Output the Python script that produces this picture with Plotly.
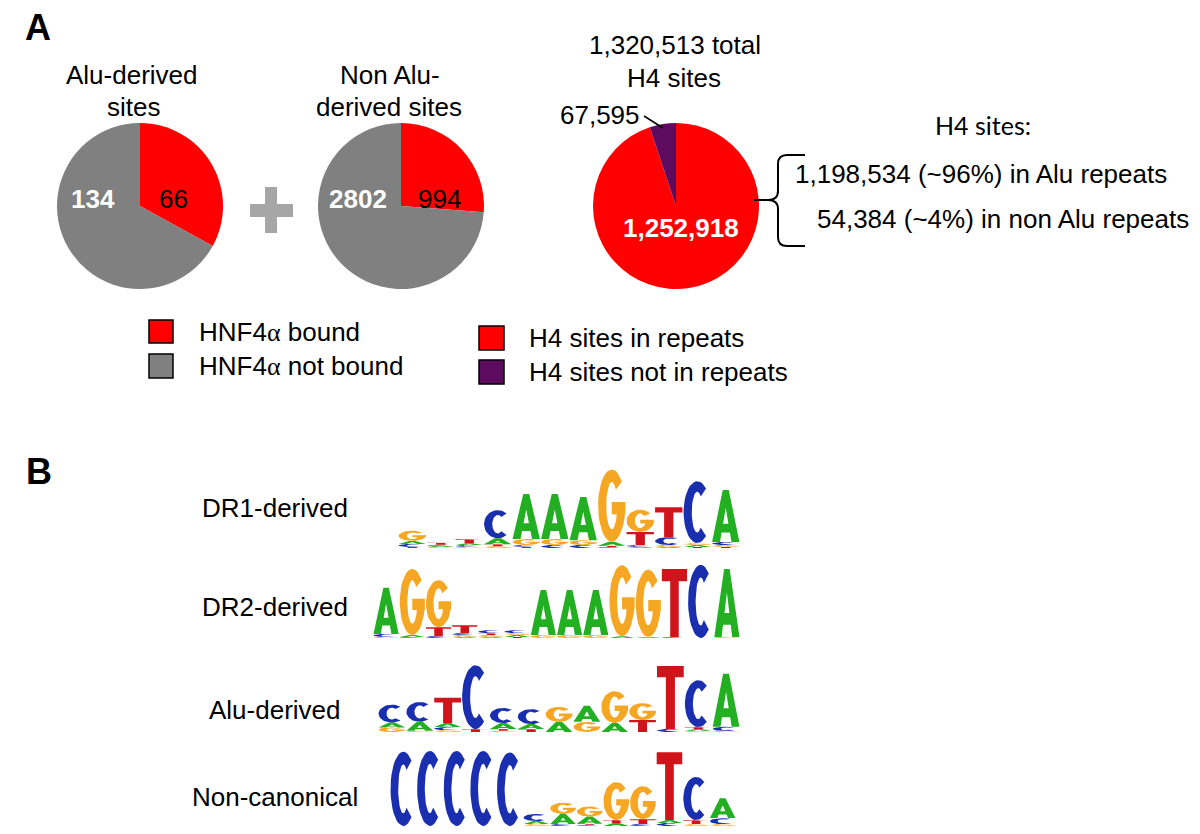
import numpy as np
import plotly.graph_objects as go

W, H = 1200, 834

# ---------------- data ----------------
alu_labels = ["HNF4α bound", "HNF4α not bound"]
alu_values = [66, 134]
non_alu_values = [994, 2802]
h4_labels = ["H4 sites in repeats", "H4 sites not in repeats"]
h4_values = [1252918, 67595]
h4_alu_repeat = 1198534
h4_non_alu_repeat = 54384

logo_names = ["DR1-derived", "DR2-derived", "Alu-derived", "Non-canonical"]

# letter heights (bits) per position
dr1_logo = [
    {"G": 0.27, "C": 0.08, "A": 0.08, "T": 0.03},
    {"T": 0.05, "G": 0.03, "A": 0.03, "C": 0.03},
    {"T": 0.11, "C": 0.05, "A": 0.05, "G": 0.03},
    {"C": 0.75, "A": 0.16, "G": 0.05, "T": 0.05},
    {"A": 1.20, "G": 0.16, "C": 0.05, "T": 0.03},
    {"A": 1.20, "G": 0.16, "C": 0.08},
    {"A": 1.15, "G": 0.13, "C": 0.08},
    {"G": 1.92, "A": 0.11, "C": 0.03, "T": 0.03},
    {"G": 0.59, "T": 0.35, "C": 0.05, "A": 0.03},
    {"T": 0.80, "C": 0.21, "G": 0.05, "A": 0.03},
    {"C": 1.65, "A": 0.05, "G": 0.05, "T": 0.03},
    {"A": 1.39, "C": 0.08, "G": 0.05, "T": 0.03},
]
dr2_logo = [
    {"A": 1.23, "C": 0.08, "G": 0.03},
    {"G": 1.76, "A": 0.05, "C": 0.03},
    {"G": 1.25, "T": 0.24, "C": 0.05},
    {"T": 0.21, "G": 0.05, "C": 0.05, "A": 0.03},
    {"C": 0.08, "G": 0.05, "T": 0.05, "A": 0.03},
    {"C": 0.08, "A": 0.05, "G": 0.05, "T": 0.03},
    {"A": 1.20, "G": 0.08},
    {"A": 1.20, "G": 0.08},
    {"A": 1.20, "G": 0.08},
    {"G": 1.89, "A": 0.05},
    {"G": 1.79, "A": 0.03},
    {"T": 1.81, "C": 0.03},
    {"C": 1.95},
    {"A": 1.81, "G": 0.03},
]
alu_logo = [
    {"C": 0.48, "A": 0.13, "G": 0.12},
    {"C": 0.53, "A": 0.24, "G": 0.03},
    {"T": 0.67, "A": 0.11, "C": 0.08, "G": 0.05},
    {"C": 1.70, "T": 0.08},
    {"C": 0.40, "A": 0.16, "T": 0.05, "G": 0.03},
    {"C": 0.40, "A": 0.13, "T": 0.08},
    {"G": 0.40, "A": 0.27},
    {"A": 0.43, "G": 0.27},
    {"G": 0.85, "A": 0.24},
    {"G": 0.45, "T": 0.32},
    {"T": 1.68, "C": 0.08},
    {"C": 1.25, "A": 0.05, "T": 0.05, "G": 0.03},
    {"A": 1.41, "C": 0.11, "G": 0.03},
]
noncanonical_logo = [
    {"C": 1.98},
    {"C": 2.00},
    {"C": 2.00},
    {"C": 2.00},
    {"C": 1.96},
    {"C": 0.19, "A": 0.08, "G": 0.05},
    {"G": 0.30, "A": 0.27, "C": 0.05},
    {"G": 0.27, "A": 0.19, "C": 0.03, "T": 0.03},
    {"G": 1.01, "A": 0.08, "T": 0.08},
    {"G": 0.88, "T": 0.13, "C": 0.05},
    {"T": 1.81, "C": 0.08, "A": 0.08},
    {"C": 1.15, "T": 0.11, "G": 0.05},
    {"A": 0.53, "C": 0.16, "G": 0.05},
]
logos = [dr1_logo, dr2_logo, alu_logo, noncanonical_logo]

# ---------------- style / layout ----------------
RED = "#FF0000"
GRAY = "#808080"
PURPLE = "#5D0B5F"
ARROW_GRAY = "#A6A6A6"
LETTER_COLORS = {"A": "#22B022", "C": "#1A2FB0", "G": "#F5A623", "T": "#D0141C"}
FONT = "Liberation Sans, Arial, sans-serif"

# logo placement (pixels): x start, x end, baseline
logo_boxes = [(398, 740, 548), (373, 740, 638), (378, 740, 732), (390, 736, 826)]
PX_PER_BIT = 37.5
YMAX = 2.2


def px(x):
    return x / W


def py(y):
    return 1 - y / H


# ---------------- glyph templates (unit box) ----------------
TX, TY = 0.30, 0.17


def arc(a0, a1, rx, ry, n=30):
    t = np.radians(np.linspace(a0, a1, n))
    return list(zip(0.5 + rx * np.cos(t), 0.5 + ry * np.sin(t)))


GLYPHS = {
    "A": [
        [(0.0, 0.0), (0.29, 0.0), (0.61, 1.0), (0.39, 1.0)],
        [(0.71, 0.0), (1.0, 0.0), (0.61, 1.0), (0.39, 1.0)],
        [(0.24, 0.18), (0.76, 0.18), (0.71, 0.35), (0.29, 0.35)],
    ],
    "C": [arc(50, 310, 0.5, 0.5) + arc(310, 50, 0.5 - TX, 0.5 - TY)],
    "G": [
        arc(42, 360, 0.5, 0.5) + arc(360, 42, 0.5 - TX, 0.5 - TY),
        [(0.5, 0.38), (1.0, 0.38), (1.0, 0.55), (0.5, 0.55)],
    ],
    "T": [
        [(0.0, 0.82), (1.0, 0.82), (1.0, 1.0), (0.0, 1.0)],
        [(0.33, 0.0), (0.67, 0.0), (0.67, 0.83), (0.33, 0.83)],
    ],
}
LETTER_W = 0.96

fig = go.Figure()

# ---------------- pies ----------------
D = 166
pie_specs = [
    (140, 206, alu_values, alu_labels, [RED, GRAY]),
    (401, 206, non_alu_values, alu_labels, [RED, GRAY]),
    (676, 206, h4_values, h4_labels, [RED, PURPLE]),
]
for cx, cy, vals, labs, cols in pie_specs:
    fig.add_trace(go.Pie(
        values=vals, labels=labs, sort=False, direction="clockwise", rotation=0,
        marker=dict(colors=cols, line=dict(width=0)), textinfo="none",
        showlegend=False, hoverinfo="label+value",
        domain=dict(x=[px(cx - D / 2), px(cx + D / 2)], y=[py(cy + D / 2), py(cy - D / 2)]),
    ))

# ---------------- sequence logos ----------------
layout_axes = {}
for k, (logo, (x0, x1, base)) in enumerate(zip(logos, logo_boxes)):
    ax = k + 2
    n = len(logo)
    polys = {c: ([], []) for c in LETTER_COLORS}
    for i, col in enumerate(logo, start=1):
        ybase = 0.0
        for letter, h in sorted(col.items(), key=lambda kv: kv[1]):
            for poly in GLYPHS[letter]:
                xs, ys = polys[letter]
                for ux, uy in poly:
                    xs.append(i - LETTER_W / 2 + ux * LETTER_W)
                    ys.append(ybase + uy * h)
                xs.append(None)
                ys.append(None)
            ybase += h
    for letter, (xs, ys) in polys.items():
        if not xs:
            continue
        fig.add_trace(go.Scatter(
            x=xs, y=ys, mode="lines", fill="toself",
            fillcolor=LETTER_COLORS[letter],
            line=dict(width=0, color=LETTER_COLORS[letter]),
            xaxis=f"x{ax}", yaxis=f"y{ax}", showlegend=False, hoverinfo="skip",
        ))
    layout_axes[f"xaxis{ax}"] = dict(domain=[px(x0), px(x1)], range=[0.5, n + 0.5],
                                     visible=False, anchor=f"y{ax}", fixedrange=True)
    layout_axes[f"yaxis{ax}"] = dict(domain=[py(base), py(base - YMAX * PX_PER_BIT)],
                                     range=[0, YMAX], visible=False, anchor=f"x{ax}",
                                     fixedrange=True)

# ---------------- annotations ----------------
ann = []


def text(x, y, s, size=26, color="black", anchor="center", family=FONT):
    ann.append(dict(x=px(x), y=py(y), xref="paper", yref="paper", text=s,
                    showarrow=False, xanchor=anchor, yanchor="middle",
                    font=dict(family=family, size=size, color=color)))


text(38, 27, "<b>A</b>", size=36)
text(39, 471, "<b>B</b>", size=36)
text(132, 75, "Alu-derived")
text(133, 107, "sites")
text(390, 75, "Non Alu-")
text(389, 107, "derived sites")
total = sum(h4_values)
text(675, 45, f"{total:,} total")
text(674, 78, "H4 sites")
text(642, 115, f"{h4_values[1]:,}", anchor="right")

text(93, 199, f"<b>{alu_values[1]}</b>", color="white")
text(173, 199, f"{alu_values[0]}")
text(358, 199, f"<b>{non_alu_values[1]}</b>", color="white")
text(439, 199, f"{non_alu_values[0]}")
text(681, 228, f"<b>{h4_values[0]:,}</b>", color="white")

text(983, 125, "H4 sites:", size=25, family="Lato, Carlito, sans-serif")
rep_total = h4_alu_repeat + h4_non_alu_repeat
text(793, 174, f"{h4_alu_repeat:,} (~{round(100 * h4_alu_repeat / rep_total)}%) in Alu repeats", anchor="left")
text(815, 219, f"{h4_non_alu_repeat:,} (~{round(100 * h4_non_alu_repeat / rep_total)}%) in non Alu repeats", anchor="left")

alpha = "<span style='font-family:Liberation Serif'>α</span>"
text(197, 332, alu_labels[0].replace("α", alpha), anchor="left")
text(197, 366, alu_labels[1].replace("α", alpha), anchor="left")
text(527, 338, h4_labels[0], anchor="left")
text(527, 372, h4_labels[1], anchor="left")

for name, ly in zip(logo_names, [508, 607, 710, 797]):
    text(275, ly, name)

# ---------------- decorative shapes ----------------
shapes = []


def rect(x0, y0, x1, y1, fill, lw=0):
    shapes.append(dict(type="rect", xref="paper", yref="paper",
                       x0=px(x0), x1=px(x1), y0=py(y1), y1=py(y0),
                       fillcolor=fill, line=dict(width=lw, color="black"), layer="above"))


def path(points_cmds, fill=None, lw=0, color="black"):
    s = ""
    for cmd, pts in points_cmds:
        s += cmd + " " + " ".join(f"{px(a):.5f},{py(b):.5f}" for a, b in pts) + " "
    shapes.append(dict(type="path", xref="paper", yref="paper", path=s.strip(),
                       fillcolor=fill if fill else "rgba(0,0,0,0)",
                       line=dict(width=lw, color=color), layer="above"))


# plus sign
rect(250, 204, 293, 217, ARROW_GRAY)
rect(265, 187, 277, 233, ARROW_GRAY)
# arrow
path([("M", [(510, 199)]), ("L", [(554, 199), (554, 187), (569, 210), (554, 233), (554, 222), (510, 222)]), ("Z", [])],
     fill=ARROW_GRAY)
# leader line for small slice
path([("M", [(644, 116)]), ("L", [(663, 128)])], lw=1.5)
# brace
path([("M", [(754, 200)]), ("L", [(768, 200)])], lw=2)
path([("M", [(805, 155)]), ("L", [(787, 155)]), ("Q", [(778, 155), (778, 164)]),
      ("L", [(778, 191)]), ("Q", [(778, 200), (768, 200)]),
      ("Q", [(778, 200), (778, 209)]), ("L", [(778, 237)]),
      ("Q", [(778, 246), (787, 246)]), ("L", [(805, 246)])], lw=2)
# legend boxes
rect(149, 320, 173, 343, RED, 1.5)
rect(149, 354, 173, 378, GRAY, 1.5)
rect(479, 326, 504, 350, RED, 1.5)
rect(479, 360, 504, 384, PURPLE, 1.5)

fig.update_layout(
    width=W, height=H, margin=dict(l=0, r=0, t=0, b=0),
    paper_bgcolor="white", plot_bgcolor="white",
    xaxis=dict(visible=False), yaxis=dict(visible=False),
    annotations=ann, shapes=shapes, showlegend=False,
    **layout_axes,
)

fig.write_html("out.html", config={"displayModeBar": False},
               post_script="document.body.style.margin='0';document.body.style.padding='0';")
